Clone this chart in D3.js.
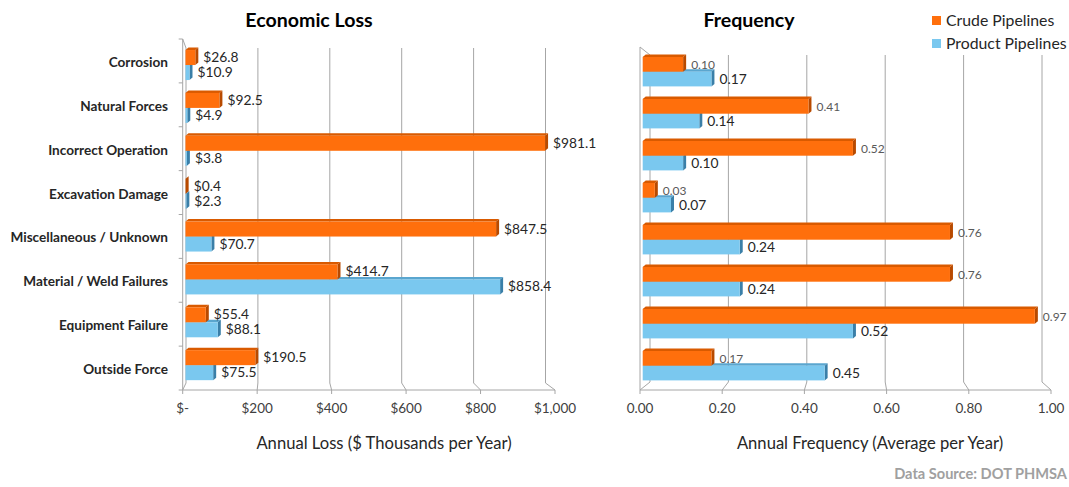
<!DOCTYPE html>
<html><head><meta charset="utf-8">
<script src="https://cdn.jsdelivr.net/npm/d3@7"></script>
<style>
html,body{margin:0;padding:0;background:#fff;}
svg{display:block;font-family:Lato,"Open Sans",sans-serif;}
</style></head>
<body><svg id="c" width="1069" height="487"></svg>
<script>
// ---- data ----
const categories = ["Corrosion","Natural Forces","Incorrect Operation","Excavation Damage","Miscellaneous / Unknown","Material / Weld Failures","Equipment Failure","Outside Force"];
const lossCrude   = [26.8, 92.5, 981.1, 0.4, 847.5, 414.7, 55.4, 190.5];
const lossProduct = [10.9, 4.9, 3.8, 2.3, 70.7, 858.4, 88.1, 75.5];
const freqCrude   = [0.10, 0.41, 0.52, 0.03, 0.76, 0.76, 0.97, 0.17];
const freqProduct = [0.17, 0.14, 0.10, 0.07, 0.24, 0.24, 0.52, 0.45];
const lossTicks = [0, 200, 400, 600, 800, 1000];
const lossTickLabels = ["$-", "$200", "$400", "$600", "$800", "$1,000"];
const freqTicks = [0, 0.2, 0.4, 0.6, 0.8, 1.0];
const freqTickLabels = ["0.00", "0.20", "0.40", "0.60", "0.80", "1.00"];
const seriesNames = ["Crude Pipelines", "Product Pipelines"];

// ---- styles ----
const COL = {
  crude:   {front:"#FF6F0C", top:"#D95A00", side:"#B84A00"},
  product: {front:"#7AC8EF", top:"#5AA6CF", side:"#3A7FA8"}
};
const GRID = "#A6A6A6";
const svg = d3.select("#c");

function drawChart(o) {
  const g = svg.append("g");
  const xF = d3.scaleLinear().domain([0, o.max]).range(o.xF);
  const xB = d3.scaleLinear().domain([0, o.max]).range(o.xB);
  const xBar = d3.scaleLinear().domain([0, o.max]).range(o.xBar);
  const yBar = d3.scaleBand().domain(categories).range(o.barRange).paddingInner(0.3).paddingOuter(0.15);
  const h = yBar.bandwidth() / 2;
  const d = 3, dd = 2.5;

  // walls / gridlines
  g.append("line").attr("x1", xF(0)).attr("x2", xF(0)).attr("y1", o.topF).attr("y2", o.axisY).attr("stroke", GRID);
  g.append("line").attr("x1", xF(0)).attr("x2", xB(0)).attr("y1", o.topF).attr("y2", o.topB).attr("stroke", GRID);
  g.selectAll(".grid").data(o.ticks).enter().append("path")
    .attr("fill", "none").attr("stroke", GRID)
    .attr("d", v => `M${xB(v)},${o.topB}V${o.botB}L${xF(v)},${o.axisY}`);
  g.append("line").attr("x1", xF(0)).attr("x2", xF(o.max)).attr("y1", o.axisY).attr("y2", o.axisY).attr("stroke", GRID);
  g.selectAll(".tk").data(o.ticks).enter().append("line")
    .attr("x1", v => xF(v)).attr("x2", v => xF(v)).attr("y1", o.axisY).attr("y2", o.axisY + 4).attr("stroke", GRID);
  g.selectAll(".tl").data(o.ticks).enter().append("text")
    .attr("x", v => xF(v)).attr("y", o.axisY + 23).attr("text-anchor", "middle")
    .attr("font-size", 13.5).attr("fill", "#404040").text((v, i) => o.tickLabels[i]);

  if (o.catLabels) {
    const yF = d3.scaleBand().domain(categories).range(o.bandF);
    const bounds = categories.map(c => yF(c)).concat([o.bandF[1]]);
    g.selectAll(".ct").data(bounds).enter().append("line")
      .attr("x1", xF(0) - 4).attr("x2", xF(0)).attr("y1", b => b).attr("y2", b => b).attr("stroke", GRID);
    g.selectAll(".cl").data(categories).enter().append("text")
      .attr("x", 168).attr("y", c => yF(c) + yF.bandwidth() / 2 + 6)
      .attr("text-anchor", "end").attr("font-size", 13.6).attr("font-weight", "bold").attr("fill", "#262626")
      .text(c => c);
  }

  function bar3d(sel, vals, col, off) {
    const gg = sel.selectAll(null).data(categories).enter().append("g");
    gg.each(function(c, i) {
      const x0 = xBar(0), x1 = xBar(vals[i]), y = yBar(c) + off;
      const s = d3.select(this);
      s.append("path").attr("fill", col.top)
        .attr("d", `M${x0},${y}L${x1},${y}L${x1 + d},${y - dd}L${x0 + d},${y - dd}Z`);
      s.append("path").attr("fill", col.side)
        .attr("d", `M${x1},${y}L${x1 + d},${y - dd}L${x1 + d},${y + h - dd}L${x1},${y + h}Z`);
      s.append("rect").attr("x", x0).attr("y", y).attr("width", Math.max(0, x1 - x0)).attr("height", h).attr("fill", col.front);
    });
  }
  bar3d(g, o.product, COL.product, h);
  bar3d(g, o.crude, COL.crude, 0);

  g.selectAll(".vc").data(categories).enter().append("text")
    .attr("x", (c, i) => xBar(o.crude[i]) + d + 5).attr("y", c => yBar(c) + h / 2 + 4.5)
    .attr("font-size", o.crudeFont).attr("fill", o.crudeFill).text((c, i) => o.fmt(o.crude[i]));
  g.selectAll(".vp").data(categories).enter().append("text")
    .attr("x", (c, i) => xBar(o.product[i]) + d + 5).attr("y", c => yBar(c) + h + h / 2 + 4.5)
    .attr("font-size", 13.8).attr("fill", "#262626").text((c, i) => o.fmt(o.product[i]));

  g.append("text").attr("x", o.titleX).attr("y", 27).attr("text-anchor", "middle")
    .attr("font-size", 19.6).attr("font-weight", "bold").attr("fill", "#000").text(o.title);
  g.append("text").attr("x", o.axisTitleX).attr("y", 449).attr("text-anchor", "middle")
    .attr("font-size", 16.6).attr("fill", "#262626").text(o.axisTitle);
}

drawChart({
  max: 1000, xF: [182.7, 555], xB: [186, 545.5], xBar: [185.5, 552],
  topF: 39, topB: 48, botB: 383, axisY: 390, bandF: [39, 390], barRange: [43.6, 386.6],
  ticks: lossTicks, tickLabels: lossTickLabels, catLabels: true,
  crude: lossCrude, product: lossProduct, fmt: v => "$" + d3.format(".1f")(v),
  crudeFont: 13.8, crudeFill: "#262626",
  title: "Economic Loss", titleX: 309, axisTitle: "Annual Loss ($ Thousands per Year)", axisTitleX: 384
});
drawChart({
  max: 1, xF: [640, 1051], xB: [650, 1042], xBar: [642.7, 1047],
  topF: 47, topB: 55, botB: 382, axisY: 390, barRange: [50.7, 386.7],
  ticks: freqTicks, tickLabels: freqTickLabels, catLabels: false,
  crude: freqCrude, product: freqProduct, fmt: d3.format(".2f"),
  crudeFont: 12, crudeFill: "#595959",
  title: "Frequency", titleX: 749, axisTitle: "Annual Frequency (Average per Year)", axisTitleX: 870
});

// legend
const lg = svg.append("g");
[COL.crude.front, COL.product.front].forEach((c, i) => {
  lg.append("rect").attr("x", 932).attr("y", 16 + i * 23).attr("width", 9).attr("height", 9).attr("fill", c);
  lg.append("text").attr("x", 946).attr("y", 25.5 + i * 23).attr("font-size", 15.8).attr("fill", "#262626").text(seriesNames[i]);
});

svg.append("text").attr("x", 1067).attr("y", 479).attr("text-anchor", "end").attr("font-size", 14.6).attr("font-weight", "bold")
  .attr("fill", "#A0A0A0").text("Data Source: DOT PHMSA");
</script></body></html>
